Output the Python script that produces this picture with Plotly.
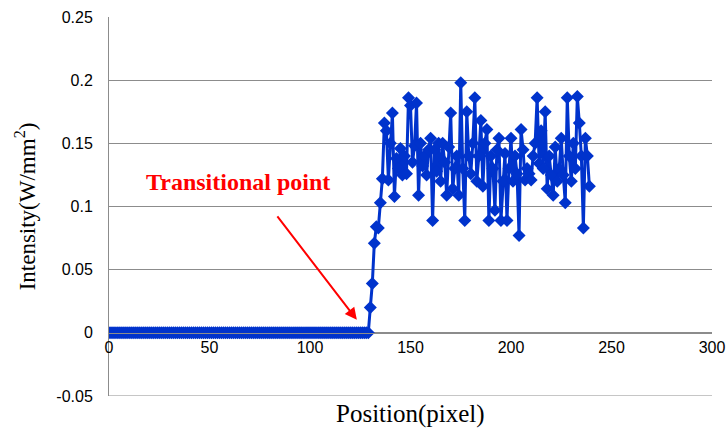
import plotly.graph_objects as go

# Intensity profile along the scan line (position in pixels)
flat_positions = list(range(0, 130))
flat_values = [0.0] * len(flat_positions)

rise_positions = list(range(130, 240))
rise_values = [
    0.020, 0.039, 0.071, 0.084, 0.083, 0.103, 0.122, 0.166, 0.160, 0.121,
    0.150, 0.174, 0.108, 0.138, 0.130, 0.146, 0.125, 0.140, 0.126, 0.186,
    0.180, 0.135, 0.148, 0.182, 0.109, 0.150, 0.132, 0.140, 0.125, 0.145,
    0.154, 0.089, 0.145, 0.128, 0.150, 0.120, 0.150, 0.135, 0.109, 0.147,
    0.174, 0.114, 0.130, 0.140, 0.109, 0.198, 0.130, 0.089, 0.175, 0.140,
    0.126, 0.150, 0.186, 0.120, 0.140, 0.168, 0.116, 0.150, 0.161, 0.089,
    0.140, 0.130, 0.097, 0.145, 0.154, 0.089, 0.120, 0.142, 0.089, 0.130,
    0.154, 0.120, 0.140, 0.126, 0.077, 0.161, 0.145, 0.121, 0.130, 0.126,
    0.121, 0.140, 0.150, 0.186, 0.134, 0.160, 0.130, 0.175, 0.114, 0.140,
    0.125, 0.109, 0.147, 0.120, 0.130, 0.154, 0.125, 0.103, 0.186, 0.140,
    0.120, 0.150, 0.130, 0.187, 0.166, 0.140, 0.083, 0.154, 0.140, 0.116,
]

positions = flat_positions + rise_positions
intensity = flat_values + rise_values

y_tickvals = [-0.05, 0, 0.05, 0.1, 0.15, 0.2, 0.25]
y_ticktext = ["-0.05", "0", "0.05", "0.1", "0.15", "0.2", "0.25"]
x_tickvals = [0, 50, 100, 150, 200, 250, 300]

transition_label = "Transitional point"
arrow_tail = (83.2, 0.0933)
arrow_head = (123.3, 0.0103)

BLUE = "#0033CC"
GRID = "#8c8c8c"
SERIF = "Liberation Serif, Times New Roman, serif"

fig = go.Figure()
fig.add_trace(go.Scatter(
    x=positions, y=intensity, mode="lines+markers",
    line=dict(color=BLUE, width=3),
    marker=dict(symbol="diamond", size=10, color=BLUE),
    showlegend=False,
))

y_min, y_max = -0.05, 0.25
fig.update_layout(
    width=728, height=428,
    margin=dict(l=109, r=16, t=17, b=32),
    paper_bgcolor="white", plot_bgcolor="white",
    font=dict(family="Liberation Sans, Arial", size=16, color="black"),
    xaxis=dict(
        range=[0, 300], tickvals=x_tickvals,
        anchor="free", position=(0 - y_min) / (y_max - y_min),
        automargin=False, ticklabeloverflow="allow",
        showgrid=False, zeroline=False,
        showline=True, linecolor=GRID, linewidth=1,
        ticks="", tickfont=dict(size=16),
        title=None,
    ),
    yaxis=dict(
        range=[y_min, y_max], tickvals=y_tickvals, ticktext=y_ticktext,
        automargin=False,
        showgrid=True, gridcolor=GRID, gridwidth=1, zeroline=False,
        showline=True, linecolor=GRID, linewidth=1,
        ticks="outside", ticklen=12, tickcolor="rgba(0,0,0,0)",
        tickfont=dict(size=16),
        title=dict(text="Intensity(W/mm<sup>2</sup>)",
                   font=dict(family=SERIF, size=23),
                   standoff=14),
    ),
)

# bottom edge of the plot area at -0.05
fig.add_shape(type="line", xref="paper", yref="y", x0=0, x1=1, y0=y_min, y1=y_min,
              line=dict(color=GRID, width=1))

# x axis title below the plot area
fig.add_annotation(
    text="Position(pixel)", xref="paper", yref="paper", x=0.5, y=0,
    yshift=-2, yanchor="top", showarrow=False,
    font=dict(family=SERIF, size=25, color="black"),
)

# transitional point callout
fig.add_annotation(
    text="<b>" + transition_label + "</b>", xref="x", yref="y", x=17.5, y=0.1195,
    xanchor="left", yanchor="middle", showarrow=False,
    font=dict(family=SERIF, size=24, color="#FF0000"),
)
fig.add_annotation(
    text="", xref="x", yref="y", axref="x", ayref="y",
    x=arrow_head[0], y=arrow_head[1], ax=arrow_tail[0], ay=arrow_tail[1],
    showarrow=True, arrowhead=2, arrowsize=1.2, arrowwidth=2, arrowcolor="#FF0000",
)

fig.write_html("out.html")
